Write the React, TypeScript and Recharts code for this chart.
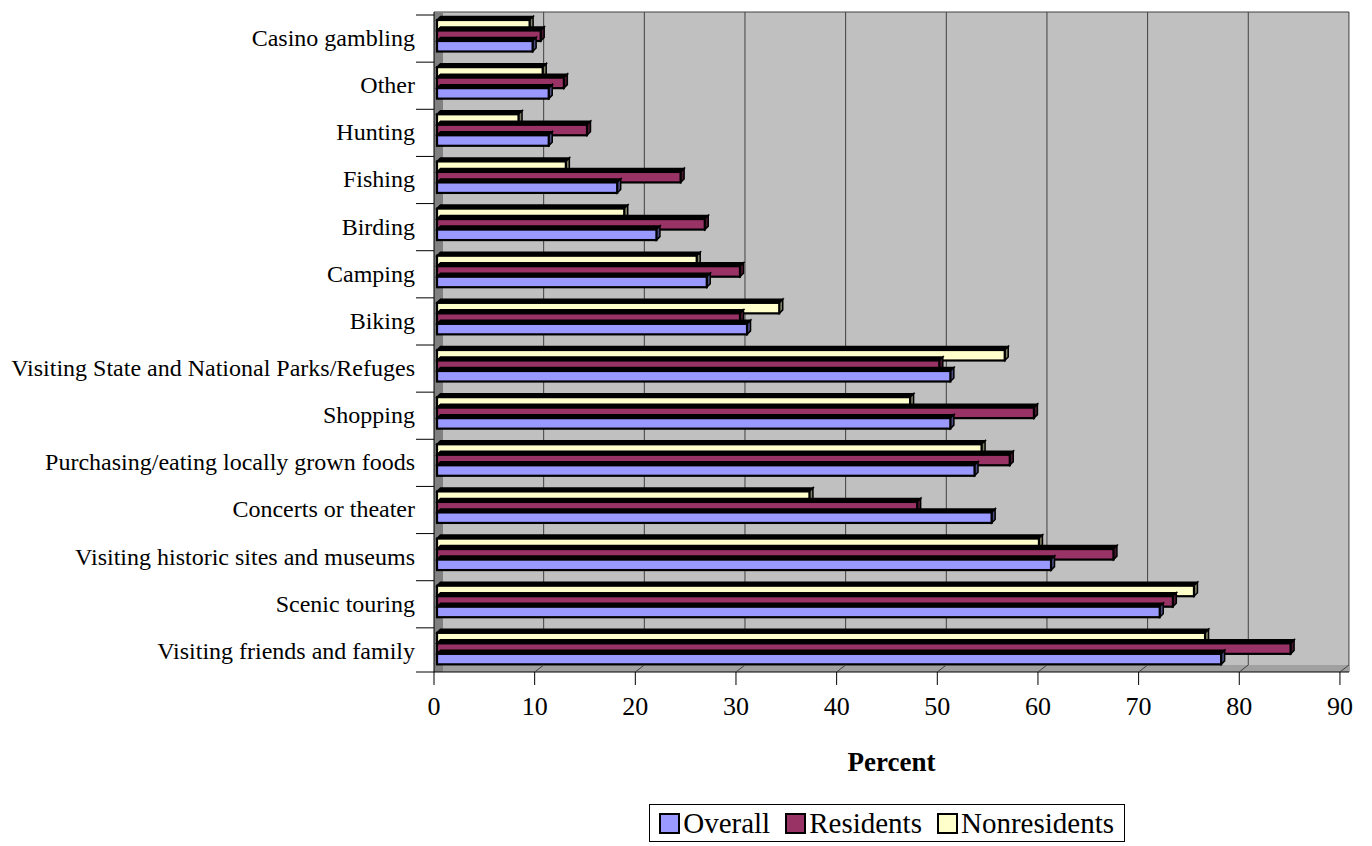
import { BarChart, Bar, XAxis, YAxis, CartesianGrid, Legend } from "recharts";

const categories = [
    "Casino gambling",
    "Other",
    "Hunting",
    "Fishing",
    "Birding",
    "Camping",
    "Biking",
    "Visiting State and National Parks/Refuges",
    "Shopping",
    "Purchasing/eating locally grown foods",
    "Concerts or theater",
    "Visiting historic sites and museums",
    "Scenic touring",
    "Visiting friends and family",
];

const overall = [9.5, 11.1, 11.1, 17.9, 21.8, 26.8, 30.8, 51.0, 51.0, 53.4, 55.1, 61.0, 71.8, 77.9];
const residents = [10.3, 12.6, 14.9, 24.2, 26.6, 30.1, 30.1, 49.9, 59.3, 56.9, 47.7, 67.2, 73.1, 84.8];
const nonresidents = [9.2, 10.5, 8.1, 12.8, 18.6, 25.8, 34.0, 56.4, 47.0, 54.1, 37.0, 59.8, 75.2, 76.3];

const xTicks = [0, 10, 20, 30, 40, 50, 60, 70, 80, 90];

const colors = {
    overall: "#9999FF",
    residents: "#993366",
    nonresidents: "#FFFFCC",
};

// darker shade for the right-hand face of each 3d bar
const sideColors: Record<string, string> = {
    "#9999FF": "#4C4C80",
    "#993366": "#4C1933",
    "#FFFFCC": "#808066",
};

const legendItems = [
    { label: "Overall", color: colors.overall },
    { label: "Residents", color: colors.residents },
    { label: "Nonresidents", color: colors.nonresidents },
];

const data = categories.map((name, i) => ({
    name,
    overall: overall[i],
    residents: residents[i],
    nonresidents: nonresidents[i],
}));

const FONT = '"Liberation Serif", "Times New Roman", serif';
const DEPTH = 3.5;
const X_MAX = 90.9;

function Bar3D(props: any) {
    const { x, y, width, height, fill } = props;
    if (!width || width <= 0) return null;
    const bx = x + 3;
    const d = DEPTH;
    const side = sideColors[fill] || "#333";
    return (
        <g>
            <polygon
                points={`${bx},${y} ${bx + d},${y - d} ${bx + width + d},${y - d} ${bx + width},${y}`}
                fill="#000"
                stroke="#000"
                strokeWidth={1.5}
            />
            <polygon
                points={`${bx + width},${y} ${bx + width + d},${y - d} ${bx + width + d},${y + height - d} ${bx + width},${y + height}`}
                fill={side}
                stroke="#000"
                strokeWidth={1.5}
            />
            <rect x={bx} y={y} width={width} height={height} fill={fill} stroke="#000" strokeWidth={2.2} />
        </g>
    );
}

function CategoryTick(props: any) {
    const { x, y, payload, index } = props;
    const half = payload?.offset || 660 / 28;
    return (
        <g>
            <line x1={x - 18} y1={y - half + 3} x2={x} y2={y - half + 3} stroke="#000" />
            {index === categories.length - 1 && (
                <line x1={x - 18} y1={y + half} x2={x} y2={y + half} stroke="#000" />
            )}
            <text
                x={x - 19}
                y={y + 2}
                dy="0.35em"
                textAnchor="end"
                fontFamily={FONT}
                fontSize={24}
                fill="#000"
            >
                {payload.value}
            </text>
        </g>
    );
}

function PercentTick(props: any) {
    const { x, y, payload } = props;
    return (
        <g>
            {payload.value > 0 && <line x1={x} y1={y} x2={x + 9} y2={y - 7} stroke="#404040" />}
            <line x1={x} y1={y} x2={x} y2={y + 13} stroke="#000" />
            <text x={x} y={y + 43} textAnchor="middle" fontFamily={FONT} fontSize={26} fill="#000">
                {payload.value}
            </text>
        </g>
    );
}

function LegendBox() {
    return (
        <div
            style={{
                display: "flex",
                alignItems: "center",
                height: 38,
                boxSizing: "border-box",
                border: "1px solid #000",
                background: "#fff",
                padding: "0 10px 0 9px",
                fontFamily: FONT,
                fontSize: 29,
                color: "#000",
                whiteSpace: "nowrap",
            }}
        >
            {legendItems.map((it, i) => (
                <span
                    key={it.label}
                    style={{ display: "flex", alignItems: "center", marginLeft: i === 0 ? 0 : 15 }}
                >
                    <span
                        style={{
                            display: "inline-block",
                            width: 17,
                            height: 17,
                            border: "2px solid #000",
                            background: it.color,
                            marginRight: 3,
                        }}
                    />
                    {it.label}
                </span>
            ))}
        </div>
    );
}

// back-wall gridlines sit a little to the right of the front ticks
const gridX = ({ offset }: any) => {
    const left = offset?.left ?? 426;
    const w = offset?.width ?? 915;
    return xTicks.slice(1).map((t) => left + (t * w) / X_MAX + 9);
};

export default function App() {
    return (
        <BarChart
            width={1356}
            height={838}
            data={data}
            layout="vertical"
            margin={{ top: 4, right: 15, bottom: 36, left: 0 }}
            barSize={10.5}
            barGap={0}
        >
            <CartesianGrid
                fill="#C0C0C0"
                stroke="#404040"
                verticalCoordinatesGenerator={gridX}
                horizontalCoordinatesGenerator={({ offset }: any) => [offset?.top ?? 4]}
            />
            {/* floor */}
            <CartesianGrid
                vertical={false}
                stroke="#A0A0A0"
                strokeWidth={7}
                horizontalCoordinatesGenerator={({ offset }: any) => [
                    (offset?.top ?? 4) + (offset?.height ?? 660) - 3.5,
                ]}
            />
            {/* left side wall */}
            <CartesianGrid
                horizontal={false}
                stroke="#808080"
                strokeWidth={9}
                verticalCoordinatesGenerator={({ offset }: any) => [(offset?.left ?? 426) + 4.5]}
            />
            <XAxis
                type="number"
                domain={[0, X_MAX]}
                ticks={xTicks}
                allowDataOverflow
                height={100}
                tickSize={0}
                tickMargin={0}
                tickLine={false}
                axisLine={{ stroke: "#000" }}
                tick={<PercentTick />}
                label={{
                    value: "Percent",
                    position: "insideBottom",
                    offset: 1,
                    style: { fontFamily: FONT, fontSize: 27, fontWeight: "bold", fill: "#000" },
                }}
            />
            <YAxis
                type="category"
                dataKey="name"
                width={426}
                tickSize={0}
                tickMargin={0}
                tickLine={false}
                axisLine={{ stroke: "#000" }}
                tick={<CategoryTick />}
                interval={0}
            />
            <Legend
                verticalAlign="bottom"
                content={<LegendBox />}
                wrapperStyle={{ left: "auto", right: 239, top: 796, bottom: "auto", width: "auto", height: 38 }}
            />
            <Bar dataKey="nonresidents" name="Nonresidents" fill={colors.nonresidents} shape={<Bar3D />} isAnimationActive={false} />
            <Bar dataKey="residents" name="Residents" fill={colors.residents} shape={<Bar3D />} isAnimationActive={false} />
            <Bar dataKey="overall" name="Overall" fill={colors.overall} shape={<Bar3D />} isAnimationActive={false} />
        </BarChart>
    );
}
